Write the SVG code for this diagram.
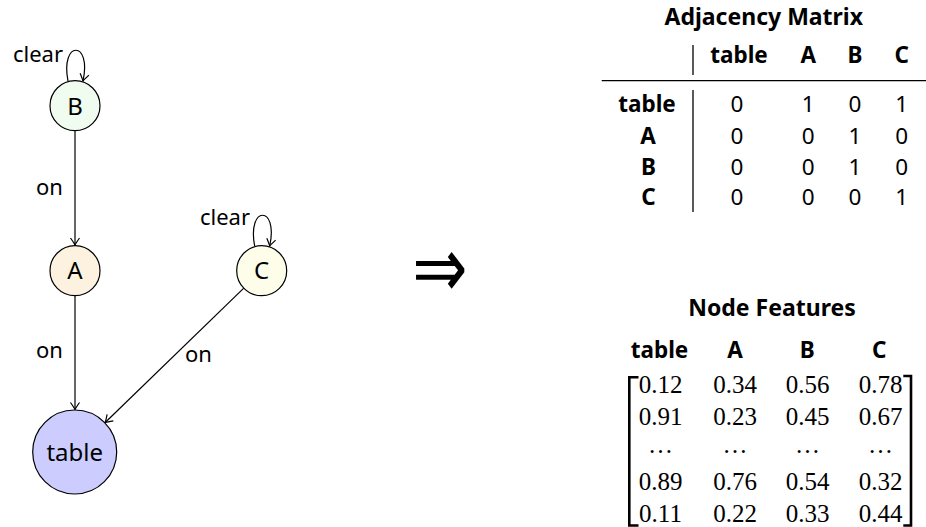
<svg xmlns="http://www.w3.org/2000/svg" width="926" height="527" viewBox="0 0 926 527">
<style>
text{font-family:"Noto Sans","DejaVu Sans",sans-serif;fill:#000}
.lbl{font-size:22px}
.nl{font-size:24px;text-anchor:middle}
.b{font-weight:bold;font-size:22.5px;text-anchor:middle}
.t{font-weight:bold;font-size:23px;text-anchor:middle}
.v{font-size:22.5px;text-anchor:middle}
.m{font-family:"Liberation Serif","Times New Roman",serif;font-size:25px;text-anchor:middle}
.node{stroke:#000;stroke-width:1.2}
.edge{fill:none;stroke:#000;stroke-width:1.2;marker-end:url(#arr)}
.rule{stroke:#000;stroke-width:1.3;fill:none}
.br{stroke:#000;stroke-width:2.6;fill:none}
</style>
<defs>
<marker id="arr" viewBox="-10 -6 12 12" markerWidth="12" markerHeight="12" refX="0" refY="0" orient="auto" markerUnits="userSpaceOnUse">
<path d="M-7,-4.5 Q-2,-1 0,0 Q-2,1 -7,4.5" fill="none" stroke="#000" stroke-width="1.2"/>
</marker>
</defs>
<g id="connectors">
<line class="edge" x1="75" y1="130.7" x2="75" y2="245"/>
<line class="edge" x1="75" y1="295.7" x2="75" y2="409.5"/>
<line class="edge" x1="243.8" y1="288.1" x2="105.2" y2="422.5"/>
<path class="edge" d="M68,81.2 C60,40 92,40 83,81"/>
<path class="edge" d="M254.7,246.2 C246.7,205 278.7,205 269.7,246"/>
<text class="lbl" x="36" y="195">on</text>
<text class="lbl" x="36" y="358.3">on</text>
<text class="lbl" x="185" y="361.7">on</text>
<text class="lbl" x="63" y="61.7" text-anchor="end">clear</text>
<text class="lbl" x="250" y="225" text-anchor="end">clear</text>
</g>
<g id="node-B">
<circle class="node" cx="75" cy="105.7" r="25" fill="#f0fcf0"/>
<text class="nl" x="75" y="114.5">B</text>
</g>
<g id="node-A">
<circle class="node" cx="75" cy="270.7" r="25" fill="#fdf2e0"/>
<text class="nl" x="75" y="279.3">A</text>
</g>
<g id="node-C">
<circle class="node" cx="261.7" cy="270.7" r="25" fill="#fdfdea"/>
<text class="nl" x="261.7" y="279.3">C</text>
</g>
<g id="node-table">
<circle class="node" cx="74.7" cy="452" r="42" fill="#ccccff"/>
<text class="nl" x="74.7" y="460.5">table</text>
</g>
<g id="implies">
<text transform="translate(440,271) scale(1,1.3)" x="0" y="20" font-family="'DejaVu Sans', sans-serif" font-size="66" text-anchor="middle">⇒</text>
</g>
<g id="adjacency-matrix">
<text class="t" x="763.8" y="25">Adjacency Matrix</text>
<text class="b" x="739" y="63.3">table</text>
<text class="b" x="808.3" y="63.3">A</text>
<text class="b" x="855" y="63.3">B</text>
<text class="b" x="901.7" y="63.3">C</text>
<line class="rule" x1="693" y1="45" x2="693" y2="75"/>
<line class="rule" x1="601.7" y1="80.7" x2="926" y2="80.7"/>
<line class="rule" x1="693" y1="90" x2="693" y2="212"/>
<text class="b" x="647" y="112">table</text>
<text class="b" x="648" y="143.5">A</text>
<text class="b" x="648.5" y="174.5">B</text>
<text class="b" x="648.5" y="205">C</text>
<text class="v" x="737" y="112">0</text><text class="v" x="808.3" y="112">1</text><text class="v" x="855" y="112">0</text><text class="v" x="901.7" y="112">1</text>
<text class="v" x="737" y="143.5">0</text><text class="v" x="808.3" y="143.5">0</text><text class="v" x="855" y="143.5">1</text><text class="v" x="901.7" y="143.5">0</text>
<text class="v" x="737" y="174.5">0</text><text class="v" x="808.3" y="174.5">0</text><text class="v" x="855" y="174.5">1</text><text class="v" x="901.7" y="174.5">0</text>
<text class="v" x="737" y="205">0</text><text class="v" x="808.3" y="205">0</text><text class="v" x="855" y="205">0</text><text class="v" x="901.7" y="205">1</text>
</g>
<g id="node-features">
<text class="t" x="772" y="316">Node Features</text>
<text class="b" x="659.5" y="358.3">table</text>
<text class="b" x="735" y="358.3">A</text>
<text class="b" x="807.3" y="358.3">B</text>
<text class="b" x="879.3" y="358.3">C</text>
<path class="br" d="M638.5,377.3 H629.3 V525.5 H638.5"/>
<path class="br" d="M903.3,376 H911 V525.5 H903.3"/>
<text class="m" x="660.5" y="392.7">0.12</text><text class="m" x="735" y="392.7">0.34</text><text class="m" x="807.5" y="392.7">0.56</text><text class="m" x="880.5" y="392.7">0.78</text>
<text class="m" x="660.5" y="425">0.91</text><text class="m" x="735" y="425">0.23</text><text class="m" x="807.5" y="425">0.45</text><text class="m" x="880.5" y="425">0.67</text>
<text class="m" x="660.5" y="453">…</text><text class="m" x="735" y="453">…</text><text class="m" x="807.5" y="453">…</text><text class="m" x="880.5" y="453">…</text>
<text class="m" x="660.5" y="490">0.89</text><text class="m" x="735" y="490">0.76</text><text class="m" x="807.5" y="490">0.54</text><text class="m" x="880.5" y="490">0.32</text>
<text class="m" x="660.5" y="521.7">0.11</text><text class="m" x="735" y="521.7">0.22</text><text class="m" x="807.5" y="521.7">0.33</text><text class="m" x="880.5" y="521.7">0.44</text>
</g>
</svg>
